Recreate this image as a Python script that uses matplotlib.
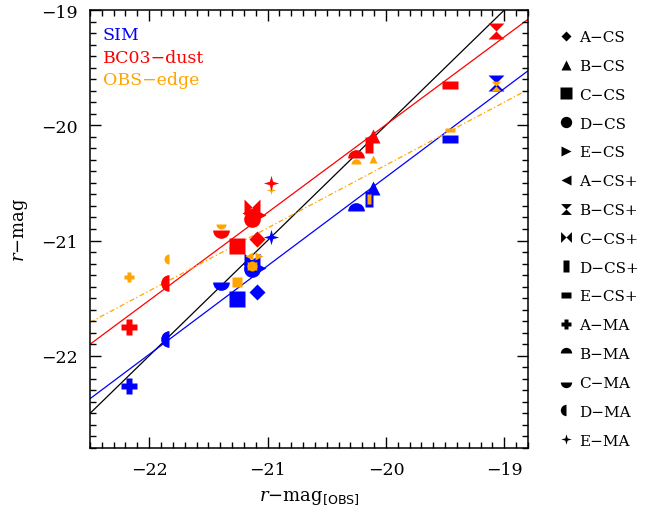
import numpy as np
import matplotlib
matplotlib.use("Agg")
import matplotlib.pyplot as plt
from matplotlib.path import Path
from matplotlib.lines import Line2D
from matplotlib.ticker import MultipleLocator

plt.rcParams['font.family'] = 'DejaVu Serif'
plt.rcParams['mathtext.fontset'] = 'dejavuserif'

# galaxies, observed r-mag and model r-mags
names = ['A-CS', 'B-CS', 'C-CS', 'D-CS', 'E-CS',
         'A-CS+', 'B-CS+', 'C-CS+', 'D-CS+', 'E-CS+',
         'A-MA', 'B-MA', 'C-MA', 'D-MA', 'E-MA']
r_obs = [-21.09, -20.11, -21.26, -21.13, -21.07,
         -21.16, -19.07, -21.13, -20.14, -19.46,
         -22.17, -20.25, -21.39, -21.83, -20.97]
r_sim = [-21.45, -20.54, -21.51, -21.25, -21.24,
         -21.20, -19.63, -21.18, -20.64, -20.12,
         -22.26, -20.74, -21.36, -21.85, -20.97]
r_bc03 = [-20.99, -20.09, -21.05, -20.81, -20.78,
          -20.76, -19.18, -20.71, -20.17, -19.65,
          -21.75, -20.28, -20.91, -21.37, -20.50]
r_edge = [-21.01, -20.29, -21.36, -21.22, -21.13,
          -21.13, -19.66, -21.22, -20.64, -20.04,
          -21.32, -20.34, -20.86, -21.16, -20.56]

# linear fits y = a + b*x
fit_labels = ['SIM', 'BC03\u2212dust', 'OBS\u2212edge']
fit_a = [-5.07, -4.755, -9.425]
fit_b = [0.769, 0.762, 0.546]
fit_colors = ['blue', 'red', 'orange']
fit_styles = ['-', '-', (0, (4, 2, 1, 2))]

# custom symbols
hourglass = Path([(-0.5, 0.5), (0.5, 0.5), (0, 0), (0.5, -0.5), (-0.5, -0.5), (0, 0), (-0.5, 0.5)])
bowtie = Path([(-0.5, 0.5), (0, 0), (0.5, 0.5), (0.5, -0.5), (0, 0), (-0.5, -0.5), (-0.5, 0.5)])
tallrect = Path([(-0.25, -0.5), (0.25, -0.5), (0.25, 0.5), (-0.25, 0.5), (-0.25, -0.5)])
widerect = Path([(-0.5, -0.25), (0.5, -0.25), (0.5, 0.25), (-0.5, 0.25), (-0.5, -0.25)])
star4 = Path([(0, 0.5), (0.11, 0.11), (0.5, 0), (0.11, -0.11), (0, -0.5),
              (-0.11, -0.11), (-0.5, 0), (-0.11, 0.11), (0, 0.5)])

# marker, fillstyle, size for each galaxy
symbols = [('D', 'full', 8), ('^', 'full', 10), ('s', 'full', 12), ('o', 'full', 12), ('>', 'full', 10),
           ('<', 'full', 10), (hourglass, 'full', 11.5), (bowtie, 'full', 11.5), (tallrect, 'full', 12),
           (widerect, 'full', 11.5), ('P', 'full', 11), ('o', 'top', 12), ('o', 'bottom', 12),
           ('o', 'left', 12), (star4, 'full', 11)]

fig = plt.figure(figsize=(6.53, 5.10), dpi=100)
ax = fig.add_axes([0.1378, 0.1196, 0.6708, 0.8588])

xlim = (-22.5, -18.8)
ylim = (-22.8, -19.0)
xs = np.array(xlim)

ax.plot(xs, xs, color='black', lw=0.9, zorder=1)
for a, b, c, st in zip(fit_a, fit_b, fit_colors, fit_styles):
    ax.plot(xs, a + b * xs, color=c, ls=st, lw=0.9, zorder=1)

for ys, c, scale in [(r_sim, 'blue', 1.0), (r_edge, 'orange', 0.6), (r_bc03, 'red', 1.0)]:
    for i in range(len(names)):
        m, fs, size = symbols[i]
        ax.plot(r_obs[i], ys[i], ls='none', marker=m, fillstyle=fs, color=c,
                mec='none', ms=size * scale, zorder=3)

for j, (lab, c) in enumerate(zip(fit_labels, fit_colors)):
    ax.text(0.029, 0.934 - 0.052 * j, lab, color=c, fontsize=12.5,
            transform=ax.transAxes, va='baseline')

ax.set_xlim(xlim)
ax.set_ylim(ylim)
ax.set_xticks([-22, -21, -20, -19])
ax.set_yticks([-22, -21, -20, -19])
ax.xaxis.set_minor_locator(MultipleLocator(0.1))
ax.yaxis.set_minor_locator(MultipleLocator(0.1))
ax.tick_params(which='both', direction='in', top=True, right=True, width=1, labelsize=12.5)
ax.tick_params(which='major', length=8, pad=9)
ax.tick_params(which='minor', length=4)
for sp in ax.spines.values():
    sp.set_linewidth(1.1)

ax.set_xlabel(r'$r\mathrm{-mag}_{\mathsf{[OBS]}}$', fontsize=13, labelpad=7)
ax.set_ylabel(r'$r\mathrm{-mag}$', fontsize=13, labelpad=8)

handles = []
for m, fs, size in symbols:
    handles.append(Line2D([], [], ls='none', marker=m, fillstyle=fs, color='black',
                          mec='none', ms=size * 0.68))
fig.legend(handles, [n.replace('-', '\u2212') for n in names], loc='upper left',
           bbox_to_anchor=(0.856, 0.939), frameon=False, fontsize=11,
           handlelength=0.9, handletextpad=0.4, labelspacing=0.97,
           borderaxespad=0, borderpad=0)

fig.savefig('out.png', dpi=100)
